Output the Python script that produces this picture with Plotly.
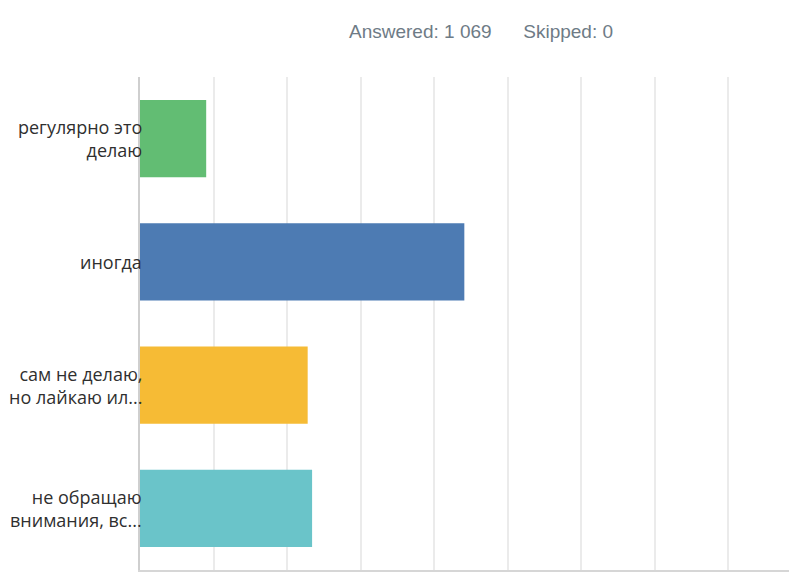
import plotly.graph_objects as go

categories = ["регулярно это<br>делаю", "иногда", "сам не делаю,<br>но лайкаю ил...", "не обращаю<br>внимания, вс..."]
values = [9.0, 44.1, 22.8, 23.4]
colors = ["#62BD73", "#4D7BB3", "#F6BB35", "#6AC4C9"]
header = "Answered: 1 069      Skipped: 0"
x_ticks = [0, 10, 20, 30, 40, 50, 60, 70, 80, 90, 100]

OFF = 8  # page body margin
W, H = 797 - OFF, 585 - OFF
ml, mr, mt, mb = 139.5 - OFF, 0, 77 - OFF, 15

fig = go.Figure()
fig.add_trace(go.Bar(
    y=list(range(len(categories))), x=values, orientation="h",
    marker=dict(color=colors, line=dict(width=0)),
    width=0.625, hoverinfo="skip",
))

for i, c in enumerate(categories):
    fig.add_annotation(x=0, y=i, xref="x", yref="y", text=c, showarrow=False,
                       xanchor="right", yanchor="middle", align="right", xshift=4, yshift=0,
                       font=dict(family="Open Sans, Noto Sans, sans-serif", size=18, color="#2F2F2F"))

pw = W - ml - mr
ph = H - mt - mb
fig.add_annotation(xref="paper", yref="paper",
                   x=(481 - OFF - ml) / pw, y=1 + (mt - (32 - OFF)) / ph,
                   text=header, showarrow=False, xanchor="center", yanchor="middle",
                   font=dict(family="Helvetica, Liberation Sans, Arial, sans-serif", size=19, color="#6E7B86"))

xmax = pw / 7.36
fig.update_layout(
    width=W, height=H,
    margin=dict(l=ml, r=mr, t=mt, b=mb, pad=0),
    paper_bgcolor="white", plot_bgcolor="white",
    showlegend=False,
    xaxis=dict(range=[0, xmax], tickvals=x_ticks, showticklabels=False,
               showgrid=True, gridcolor="#EBEBEB", gridwidth=2, zeroline=False,
               showline=True, linecolor="#D6D6D6", linewidth=2, fixedrange=True),
    yaxis=dict(range=[3.5, -0.5], showticklabels=False, showgrid=False, zeroline=False,
               showline=True, linecolor="#CFCFCF", linewidth=2, ticks="", fixedrange=True),
)
fig.write_html("out.html")
